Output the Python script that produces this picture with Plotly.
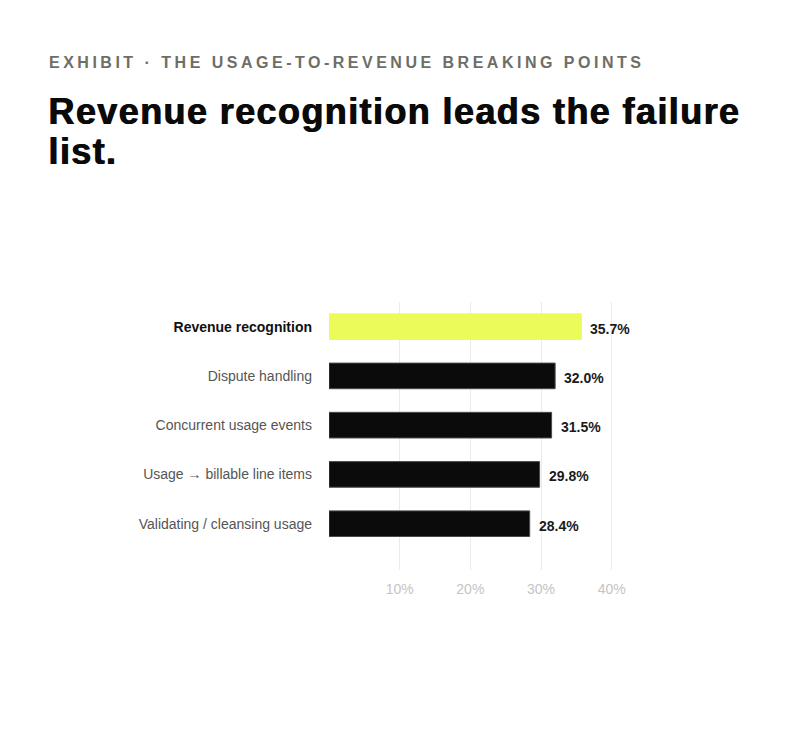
import plotly.graph_objects as go

categories = [
    "Revenue recognition",
    "Dispute handling",
    "Concurrent usage events",
    "Usage \u2192 billable line items",
    "Validating / cleansing usage",
]
shares = [35.7, 32.0, 31.5, 29.8, 28.4]
tick_values = [10, 20, 30, 40]
tick_labels = ["10%", "20%", "30%", "40%"]

highlight = "#ebfc5a"
ink = "#0b0b0b"
FONT = "Liberation Sans, Arial, sans-serif"

bar_colors = [highlight if i == 0 else ink for i in range(len(categories))]
line_colors = [highlight if i == 0 else "#4a4a4a" for i in range(len(categories))]

# page has an 8px body margin, so figure coords = target - 8
OFF = 8
L, R, T, B = 329 - OFF, 161, 302 - OFF, 181
W, H = 800, 743

fig = go.Figure()
fig.add_trace(go.Bar(
    x=shares,
    y=categories,
    orientation="h",
    marker=dict(color=bar_colors, line=dict(color=line_colors, width=1)),
    width=0.52,
    hoverinfo="skip",
))

# value labels just past the bar ends
for cat, val in zip(categories, shares):
    fig.add_annotation(
        x=val, y=cat, xref="x", yref="y",
        text=f"<b>{val:.1f}%</b>",
        showarrow=False, xanchor="left", yanchor="middle",
        xshift=7, yshift=-2,
        font=dict(family=FONT, size=14, color="#1a1a1a"),
    )

tick_text = list(categories)
tick_text[0] = '<span style="color:#111111"><b>' + categories[0] + "</b></span>"

fig.update_yaxes(
    tickmode="array",
    tickvals=categories,
    ticktext=tick_text,
    range=[4.94, -0.5],
    showgrid=False,
    zeroline=False,
    showline=False,
    ticks="",
    ticklabelstandoff=16,
    tickfont=dict(family=FONT, size=14, color="#555555"),
)
fig.update_xaxes(
    range=[0, 45],
    tickmode="array",
    tickvals=tick_values,
    ticktext=tick_labels,
    showgrid=True,
    gridcolor="#ecebe6",
    gridwidth=1,
    zeroline=False,
    showline=False,
    ticks="",
    ticklabelstandoff=9,
    tickfont=dict(family=FONT, size=14, color="#c4c4c4"),
)

fig.update_layout(
    width=W,
    height=H,
    paper_bgcolor="white",
    plot_bgcolor="white",
    showlegend=False,
    margin=dict(l=L, r=R, t=T, b=B),
    font=dict(family=FONT),
)

plot_w = W - L - R
plot_h = H - T - B


def px_x(p):
    return (p - OFF - L) / plot_w


def px_y(p):
    return (H - B - (p - OFF)) / plot_h


fig.add_annotation(
    x=px_x(47), y=px_y(62), xref="paper", yref="paper", xanchor="left", yanchor="middle",
    text='<span style="letter-spacing:3.5px"><b>EXHIBIT \u00b7 THE USAGE-TO-REVENUE BREAKING POINTS</b></span>',
    showarrow=False,
    font=dict(family=FONT, size=16, color="#6e6e66"),
)
head_font = dict(family=FONT, size=36, color="#0a0a0a", shadow="1px 0 0 #0a0a0a")
fig.add_annotation(
    x=px_x(46), y=px_y(111), xref="paper", yref="paper", xanchor="left", yanchor="middle",
    text='<span style="letter-spacing:1.4px"><b>Revenue recognition leads the failure</b></span>',
    showarrow=False,
    font=head_font,
)
fig.add_annotation(
    x=px_x(46), y=px_y(151), xref="paper", yref="paper", xanchor="left", yanchor="middle",
    text='<span style="letter-spacing:1.4px"><b>list.</b></span>',
    showarrow=False,
    font=head_font,
)

fig.write_html("out.html")
